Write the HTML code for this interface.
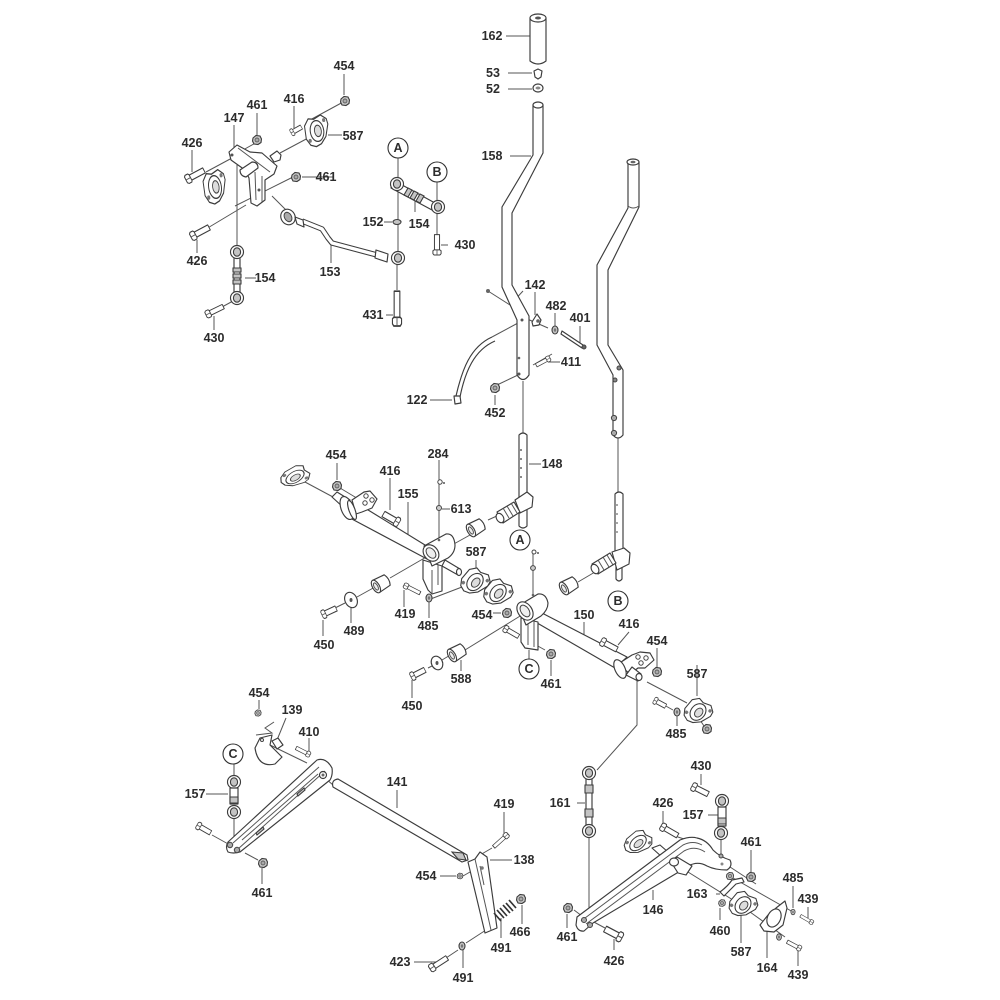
<!DOCTYPE html>
<html><head><meta charset="utf-8"><style>
html,body{margin:0;padding:0;background:#fff}
svg{display:block;filter:blur(.35px)}
text{font-family:"Liberation Sans",sans-serif;font-weight:bold;font-size:12.5px;fill:#2c2c2c;text-anchor:middle}
.p{fill:#fff;stroke:#3c3c3c;stroke-width:1.15;stroke-linejoin:round}
.l{fill:none;stroke:#555;stroke-width:1}
.t{fill:none;stroke:#3c3c3c;stroke-width:1.15}
.g{fill:#c4c4c4;stroke:#3c3c3c;stroke-width:1.1}
</style></head><body>
<svg width="1000" height="1000" viewBox="0 0 1000 1000" xmlns="http://www.w3.org/2000/svg">
<defs>
<g id="n"><path class="g" d="M-4,-2 L-1,-4.5 L3,-4 L4.5,-1 L4,2.5 L1,4.5 L-3,4 L-4.5,1Z"/><circle r="2" fill="#aaa" stroke="#444" stroke-width=".7"/></g>
<g id="w"><ellipse rx="3" ry="4" class="g"/><ellipse rx="1.2" ry="1.8" fill="#777"/></g>
<g id="b"><path class="p" d="M5,-3 H24 V3 H5Z"/><path class="p" d="M0,-3.4 L1.5,-4.8 L5,-4.8 L6,-3.4 L6,3.4 L5,4.8 L1.5,4.8 L0,3.4Z"/><path class="l" d="M0,0H6"/></g>
<g id="e"><circle r="6.5" class="p"/><ellipse rx="3.6" ry="4.2" class="g"/></g>
<g id="f"><path class="p" d="M-13,-6 L-8,-12 L-2,-11 L6,-14 L12,-10 L13,-5 L9,6 L3,12 L-3,14 L-9,12 L-13,6Z"/><ellipse rx="7.5" ry="9.5" class="p"/><ellipse cx="1" rx="3.8" ry="5.2" fill="#ddd" stroke="#444"/><circle cx="-9" cy="8" r="1.8" fill="#777"/><circle cx="9" cy="-9" r="1.8" fill="#777"/></g>
<g id="rod"><path class="p" d="M-3,0 H3 V46 H-3Z"/><use href="#e"/><use href="#e" y="46"/><path class="g" d="M-4,16 H4 V20 H-4ZM-4,22 H4 V26 H-4ZM-4,28 H4 V32 H-4Z"/></g>
<g id="cy"><path class="p" d="M-7,-7 L6,-6 Q9,0 6,6 L-7,7Z"/><ellipse cx="-7" rx="3.5" ry="7" class="p"/><ellipse cx="-7" rx="1.8" ry="4" fill="#eee" stroke="#555"/></g>
</defs>

<!-- leaders -->
<g class="l">
<path d="M506,36H530M508,73H532M508,89H532M510,156H531"/>
<path d="M344,74V95M257,113V135M294,106V128M234,125V150M192,150V172M197,240V253M245,278H256M214,330V316M328,135H342M334,177H302"/>
<path d="M345,101L310,120M310,137L280,153M293,177L235,206M206,229L246,205M206,172L232,158M259,141L243,150M272,196L288,212M237,165V245M222,307L233,301"/>
<path d="M398,158V178M398,190V252M437,182V202M437,212V235M397,265V290M384,222H392M448,245H441M386,315H393M415,201V212M331,243V263"/>
<path d="M523,381V433M618,437V492M529,464H541M523,291L510,305L488,291M535,292V315M555,313V327M580,326V345M560,362H548M495,395V405M430,400H452M497,385L518,375M533,365L552,354M518,323L492,337M525,318L548,328"/>
<path d="M337,463V480M340,488L360,500M390,478V510M408,502V537M439,460V540M450,509H442M305,482L333,497M476,560V572M404,607V590M429,618V602M351,623V606M323,636V620M493,613H501M428,600L462,587M390,578L428,556M335,608L345,603M357,597L375,587M488,520L510,510M452,545L470,535"/>
<path d="M533,552V596M578,582L595,572M584,622V640M629,632L618,645M657,648V668M697,665V696M647,682L687,703M551,676V660M536,645L545,650M529,650V660M461,671V660M412,698V680M428,668L434,665M442,660L452,654M465,650L525,613M677,726V716M664,705L673,710M700,720L704,726M637,678V725L597,770"/>
<path d="M259,700V709M270,745L307,763M286,718L277,740M309,738V755M234,764V776M234,818V840M206,794H228M212,835L230,845M262,884V868M245,853L258,860M397,790V808M504,812V834M492,848L480,855M512,860H490M440,876H456M463,876L470,872M522,924V905M501,938V918M463,968V950M414,962H436M446,958L458,950M466,943L486,930M333,785L325,778"/>
<path d="M577,803H585M589,836V912M701,774V785M663,811V824M708,815H721M722,808V826M721,839V856M751,850V872M716,894H720M793,886V908M808,907V918M720,920V908M653,900V890M741,943V912M767,958V930M798,966V950M567,928V914M614,950V939M675,836L684,839M605,928L592,921M574,910L582,916M733,878L793,912M688,872L733,900M750,912L785,937M756,884L727,865"/>
</g>

<!-- left top assembly -->
<use href="#n" x="345" y="101"/>
<use href="#b" transform="translate(291,133) rotate(-30) scale(.5,.75)"/>
<use href="#f" transform="translate(317,131) rotate(-8) scale(.9,1.1)"/>
<path class="p" d="M270,156L277,151L281,155L280,160L274,162Z"/>
<path class="p" d="M229,152L237,145L250,152L262,153L277,166L274,174L265,180L265,200L257,206L251,203L249,178L245,170L231,160Z"/>
<path class="l" d="M238,148L270,172M255,172L256,200M262,176L262,202"/>
<circle cx="232" cy="155" r="1.5" fill="#555"/><circle cx="259" cy="190" r="1.5" fill="#555"/>
<path class="p" d="M240,170L252,162Q258,162 258,168L246,177Q240,176 240,170Z"/>
<use href="#f" transform="translate(215,187) rotate(-8) scale(.85,1.2)"/>
<use href="#n" x="257" y="140"/><use href="#n" x="296" y="177"/>
<use href="#b" transform="translate(186,180) rotate(-28) scale(.85,.95)"/>
<use href="#b" transform="translate(191,237) rotate(-28) scale(.85,.95)"/>
<use href="#rod" x="237" y="252"/>
<use href="#b" transform="translate(206,315) rotate(-26) scale(.8,.8)"/>
<path d="M302,221L322,229L328,238L332,243L377,255" fill="none" stroke="#3c3c3c" stroke-width="5.5" stroke-linejoin="round"/>
<path d="M302,221L322,229L328,238L332,243L377,255" fill="none" stroke="#fff" stroke-width="3.4" stroke-linejoin="round"/>
<ellipse cx="288" cy="217" rx="7" ry="8" class="p" transform="rotate(-30 288 217)"/><ellipse cx="288" cy="217" rx="3.5" ry="5" fill="#aaa" stroke="#444" transform="rotate(-30 288 217)"/>
<path class="p" d="M295,217L303,220L304,227L297,224Z"/>
<path class="p" d="M376,250L388,254L387,262L375,258Z"/>
<use href="#e" x="398" y="258"/>
<use href="#b" transform="translate(397,326) rotate(-90) scale(1.45,.95)"/>
<path class="p" d="M393,180L435,203L432,210L391,188Z"/>
<use href="#e" x="397" y="184"/><use href="#e" x="438" y="207"/>
<path class="g" d="M408,188L412,190L408,197L404,195ZM414,191L418,193L414,200L410,198ZM420,194L424,196L420,203L416,201Z"/>
<ellipse cx="397" cy="222" rx="4" ry="2.5" class="g"/>
<use href="#b" transform="translate(437,255) rotate(-90) scale(.85,.85)"/>

<!-- main levers -->
<path class="p" d="M533,105 V155 L502,207 V287 L517,320 V375 Q523,384 529,375 V316 L512,285 V213 L543,153 V105 Z"/>
<ellipse cx="538" cy="105" rx="5" ry="3" class="p"/>
<path class="p" d="M597,345 V265 L628,208 V162 H639 V207 L608,270 V345 L623,370 V435 Q618,441 613,435 V375 Z"/>
<path class="l" d="M628,206 Q633,210 639,206"/><ellipse cx="633" cy="162" rx="6" ry="3" class="p"/><ellipse cx="633" cy="162" rx="2.5" ry="1.3" fill="#666"/>
<circle cx="522" cy="320" r="1.5" fill="#555"/><circle cx="519" cy="358" r="1.3" fill="#666"/><circle cx="519" cy="374" r="1.5" fill="#555"/>
<circle cx="615" cy="380" r="2" fill="#888" stroke="#444"/><circle cx="614" cy="418" r="2.6" fill="#aaa" stroke="#444"/><circle cx="614" cy="433" r="2.6" fill="#aaa" stroke="#444"/><circle cx="619" cy="368" r="2" fill="#888" stroke="#444"/>
<path class="p" d="M532,322L537,314L541,320L539,325L533,326Z"/><circle cx="538" cy="321" r="1.8" fill="#666"/>
<use href="#w" x="555" y="330"/>
<path class="p" d="M562,331L583,345L582,348L561,334Z"/><circle cx="584" cy="347" r="2" fill="#666" stroke="#444"/>
<use href="#b" transform="translate(550,358) rotate(152) scale(.65,.6)"/>
<use href="#n" x="495" y="388"/>
<circle cx="488" cy="291" r="2" fill="#666"/>
<path class="t" d="M492,337C470,347 462,370 456,396M495,341C474,350 465,372 460,397"/>
<path class="p" d="M454,396H460L461,403L455,404Z"/>

<!-- top grip 162 -->
<path class="p" d="M530,18 V61 Q538,67 546,61 V18Z"/>
<ellipse cx="538" cy="18" rx="8" ry="4" class="p"/><ellipse cx="538" cy="18" rx="3" ry="1.5" fill="#555"/>
<path class="p" d="M534,71L538,69L542,71L541,77L538,79L535,77Z"/>
<ellipse cx="538" cy="88" rx="5" ry="4" class="p"/><ellipse cx="538" cy="88" rx="2.5" ry="1.5" fill="#888"/>

<!-- tubes 148 -->
<path class="p" d="M519,435 Q523,431 527,435 V500 H519Z"/>
<g fill="#666"><circle cx="521" cy="450" r="1"/><circle cx="521" cy="459" r="1"/><circle cx="521" cy="468" r="1"/><circle cx="521" cy="477" r="1"/></g>
<path class="p" d="M519,505V526Q523,530 527,526V505Z"/>
<path class="p" d="M515,500L527,492L533,497L532,507L520,513Z"/>
<path class="p" d="M497,512L514,502L520,512L503,523Z"/>
<path class="l" d="M503,508L509,518M507,506L513,516M511,503L517,513"/><ellipse cx="500" cy="518" rx="3.5" ry="5" class="p" transform="rotate(-30 500 518)"/>
<path class="p" d="M615,494 Q619,490 623,494 V552 H615Z"/>
<g fill="#666"><circle cx="617" cy="505" r=".9"/><circle cx="617" cy="514" r=".9"/><circle cx="617" cy="523" r=".9"/><circle cx="617" cy="532" r=".9"/></g>
<path class="p" d="M616,560V579Q619,583 622,579V560Z"/>
<path class="p" d="M612,552L624,548L630,553L629,564L617,570Z"/>
<path class="p" d="M592,564L610,553L616,563L598,574Z"/>
<path class="l" d="M598,560L604,570M603,557L609,567M607,555L613,565"/><ellipse cx="595" cy="569" rx="3.5" ry="5" class="p" transform="rotate(-30 595 569)"/>

<!-- left shaft 155 -->
<use href="#f" transform="translate(295,477) rotate(60) scale(.72,1.05)"/>
<use href="#n" x="337" y="486"/>
<path class="p" d="M332,497L337,492L350,500L344,508Z"/>
<path class="p" d="M350,518L360,505L425,545L427,559Z"/>
<path class="p" d="M352,500L364,492L370,491L377,499L372,508L362,512L356,514Z"/>
<circle cx="366" cy="496" r="2.2" fill="#fff" stroke="#444"/><circle cx="372" cy="500" r="2.2" fill="#fff" stroke="#444"/><circle cx="365" cy="503" r="2.2" fill="#fff" stroke="#444"/>
<ellipse cx="347" cy="508" rx="6" ry="12" class="p" transform="rotate(-20 347 508)"/><ellipse cx="352" cy="510" rx="3" ry="10" class="p" transform="rotate(-20 352 510)"/>
<use href="#b" transform="translate(399,523) rotate(210) scale(.75,1)"/>
<path class="p" d="M423,560V579L428,590L432,594L442,591V566Z"/><path class="l" d="M432,570V594M438,565V585"/>
<path class="p" d="M445,560L460,569L458,575L442,566Z"/><ellipse cx="459" cy="572" rx="2.5" ry="3.5" class="p"/>
<path class="p" d="M424,546L446,534Q454,533 455,545Q455,553 448,558L432,566Z"/>
<ellipse cx="431" cy="553" rx="7" ry="9" class="p" transform="rotate(-40 431 553)"/><ellipse cx="431" cy="553" rx="4" ry="6" fill="#eee" stroke="#444" transform="rotate(-40 431 553)"/>
<circle cx="439" cy="540" r="1.3" fill="#666"/>
<use href="#cy" transform="translate(477,527) rotate(-30)"/>
<use href="#cy" transform="translate(382,583) rotate(-30)"/>
<ellipse cx="351" cy="600" rx="6" ry="8" class="p" transform="rotate(-25 351 600)"/><ellipse cx="351" cy="600" rx="1.5" ry="2" fill="#555"/>
<use href="#b" transform="translate(322,615) rotate(-25) scale(.65,.9)"/>
<use href="#b" transform="translate(404,585) rotate(27) scale(.75,.6)"/>
<use href="#w" x="429" y="598"/>
<use href="#f" transform="translate(475,582) rotate(40) scale(.95,1)"/>
<use href="#f" transform="translate(498,593) rotate(40) scale(.95,1)"/>
<use href="#n" x="507" y="613"/>
<circle cx="440" cy="482" r="2.2" fill="#fff" stroke="#444"/><circle cx="444" cy="483" r="1" fill="#555"/>
<circle cx="439" cy="508" r="2.5" fill="#ccc" stroke="#444"/>

<!-- middle shaft 150 -->
<circle cx="534" cy="552" r="2" fill="#fff" stroke="#444"/><circle cx="538" cy="553" r="1" fill="#555"/>
<circle cx="533" cy="568" r="2.4" fill="#ccc" stroke="#444"/>
<use href="#cy" transform="translate(570,585) rotate(-30)"/>
<path class="p" d="M532,620L540,612L627,657L615,668Z"/>
<path class="p" d="M521,618V642L525,648L538,650V622Z"/><path class="l" d="M528,622V645M534,620V647"/>
<path class="p" d="M518,606L538,594Q546,593 548,603Q548,610 541,616L526,625Z"/>
<ellipse cx="525" cy="611" rx="7" ry="10" class="p" transform="rotate(-35 525 611)"/><ellipse cx="525" cy="611" rx="4" ry="6.5" fill="#eee" stroke="#444" transform="rotate(-35 525 611)"/>
<circle cx="533" cy="595" r="1.3" fill="#666"/>
<use href="#b" transform="translate(504,628) rotate(30) scale(.7,.75)"/>
<use href="#n" x="551" y="654"/>
<use href="#b" transform="translate(601,641) rotate(28) scale(.75,.9)"/>
<use href="#n" x="657" y="672"/>
<path class="p" d="M618,664L632,655L640,652L650,653L654,660L645,668L638,668L630,674Z"/>
<circle cx="638" cy="657" r="2.2" fill="#fff" stroke="#444"/><circle cx="646" cy="658" r="2.2" fill="#fff" stroke="#444"/><circle cx="641" cy="663" r="2.2" fill="#fff" stroke="#444"/>
<ellipse cx="620" cy="669" rx="5" ry="10" class="p" transform="rotate(-25 620 669)"/>
<path class="p" d="M626,675L632,667L641,674L638,681Z"/><ellipse cx="639" cy="677" rx="3" ry="3.5" class="p"/>
<use href="#f" transform="translate(698,712) rotate(40) scale(.95,.95)"/>
<use href="#n" x="707" y="729"/>
<use href="#b" transform="translate(654,700) rotate(28) scale(.55,.75)"/>
<use href="#w" x="677" y="712"/>
<use href="#cy" transform="translate(458,652) rotate(-30)"/>
<ellipse cx="437" cy="663" rx="5.5" ry="7" class="p" transform="rotate(-25 437 663)"/><ellipse cx="437" cy="663" rx="1.5" ry="2" fill="#555"/>
<use href="#b" transform="translate(411,677) rotate(-27) scale(.65,.9)"/>

<!-- lower left arm -->
<path class="p" d="M255,748 Q258,768 275,764 L282,757 L270,745 L272,735 L260,738Z"/>
<circle cx="262" cy="740" r="1.5" fill="#fff" stroke="#444"/>
<path class="l" d="M256,735L272,733L265,728L274,722"/>
<path class="p" d="M272,741L278,738L283,745L277,749Z"/>
<use href="#n" transform="translate(258,713) scale(.7)"/>
<use href="#b" transform="translate(310,755) rotate(207) scale(.65,.6)"/>
<path class="p" d="M228,842L317,760Q326,757 332,768Q333,775 330,780L240,852Q233,854 228,852Q225,847 228,842Z"/>
<path class="l" d="M233,843L319,767M238,849L325,771M242,840L318,774"/>
<path class="g" d="M256,833L263,827L264,829L257,835ZM297,794L304,788L305,790L298,796Z"/>
<circle cx="323" cy="775" r="3.5" class="p"/><circle cx="323" cy="775" r="1.5" fill="#666"/>
<circle cx="230" cy="845" r="2.7" fill="#aaa" stroke="#444"/><circle cx="237" cy="850" r="2.7" fill="#aaa" stroke="#444"/>
<path class="p" d="M333,787Q331,780 338,779L467,855L468,860L462,862Z"/>
<path class="g" d="M452,852L463,853L466,860L458,859Z"/>
<use href="#e" x="234" y="782"/><use href="#e" x="234" y="812"/>
<path class="p" d="M230,788H238V804H230Z"/><path class="g" d="M230,797H238V803H230Z"/>
<use href="#b" transform="translate(197,825) rotate(30) scale(.65,.8)"/>
<use href="#n" x="263" y="863"/>
<path class="p" d="M468,862L475,859L480,852L487,857L497,928L485,933Z"/>
<path class="l" d="M475,859L491,930M480,866L484,885"/><circle cx="482" cy="868" r="1.8" fill="#777"/>
<use href="#b" transform="translate(508,834) rotate(138) scale(.8,.6)"/>
<use href="#n" transform="translate(460,876) scale(.65)"/>
<g stroke="#333" stroke-width="1.7" fill="none"><path d="M494,913L501,921M497,910L504,918M500,908L507,916M503,905L510,913M506,903L513,911M509,900L516,908"/></g>
<use href="#n" x="521" y="899"/>
<use href="#w" x="462" y="946"/>
<use href="#b" transform="translate(430,969) rotate(-33) scale(.85,.85)"/>

<!-- lower right arm -->
<path class="p" d="M586,778H592V826H586Z"/>
<use href="#e" x="589" y="773"/><use href="#e" x="589" y="831"/>
<path class="g" d="M585,785H593V793H585ZM585,809H593V817H585Z"/>
<use href="#f" transform="translate(638,843) rotate(50) scale(.8,1)"/>
<use href="#n" x="568" y="908"/>
<path class="p" d="M652,848L660,845L668,852L662,857Z"/>
<path class="p" d="M577,917L680,840Q690,836 697,838Q707,840 713,850Q720,857 730,860Q733,866 727,870Q715,870 707,866Q700,862 693,864Q684,866 677,873L593,923L584,931Q578,932 576,925Z"/>
<path class="l" d="M581,921L683,845Q693,840 702,845M586,924L684,851Q695,845 705,852"/>
<circle cx="584" cy="920" r="2.5" fill="#aaa" stroke="#444"/><circle cx="590" cy="925" r="2.5" fill="#aaa" stroke="#444"/>
<circle cx="722" cy="864" r="1.5" fill="#888"/><circle cx="721" cy="856" r="2" fill="#aaa" stroke="#444"/>
<path class="p" d="M671,862L677,857L692,866L686,875L678,873Z"/><ellipse cx="674" cy="862" rx="4.5" ry="4" class="p"/>
<use href="#b" transform="translate(661,826) rotate(30) scale(.8,.85)"/>
<use href="#b" transform="translate(622,938) rotate(208) scale(.8,1.05)"/>
<use href="#e" x="722" y="801"/><use href="#e" x="721" y="833"/>
<path class="p" d="M718,807H726V826H718Z"/><path class="g" d="M718,818H726V824H718Z"/>
<use href="#b" transform="translate(692,786) rotate(27) scale(.75,.9)"/>
<use href="#n" x="751" y="877"/><use href="#n" transform="translate(730,876) scale(.8)"/>
<path class="p" d="M720,892Q728,886 732,880L742,878L744,882L736,884Q730,890 724,896Z"/>
<use href="#n" transform="translate(722,903) scale(.75)"/>
<use href="#f" transform="translate(743,905) rotate(40) scale(.95,.95)"/>
<path class="p" d="M760,925L768,915L776,908L785,901L787,908L783,925L774,932L764,931Z"/>
<ellipse cx="774" cy="918" rx="6.5" ry="9.5" class="p" transform="rotate(25 774 918)"/>
<use href="#w" transform="translate(793,912) scale(.7)"/>
<use href="#b" transform="translate(813,923) rotate(210) scale(.6,.5)"/>
<use href="#w" transform="translate(779,937) scale(.8)"/>
<use href="#b" transform="translate(801,949) rotate(208) scale(.65,.6)"/>

<!-- circles -->
<g fill="#fff" stroke="#333" stroke-width="1.1">
<circle cx="398" cy="148" r="10"/>
<circle cx="437" cy="172" r="10"/>
<circle cx="520" cy="540" r="10"/>
<circle cx="618" cy="601" r="10"/>
<circle cx="529" cy="669" r="10"/>
<circle cx="233" cy="754" r="10"/>
</g>

<!-- labels -->
<text x="398" y="152">A</text><text x="437" y="176">B</text><text x="520" y="544">A</text><text x="618" y="605">B</text><text x="529" y="673">C</text><text x="233" y="758">C</text>
<text x="492" y="40">162</text><text x="493" y="77">53</text><text x="493" y="93">52</text><text x="492" y="160">158</text>
<text x="344" y="70">454</text><text x="257" y="109">461</text><text x="294" y="103">416</text><text x="234" y="122">147</text><text x="192" y="147">426</text><text x="353" y="140">587</text><text x="326" y="181">461</text><text x="197" y="265">426</text><text x="265" y="282">154</text><text x="214" y="342">430</text>
<text x="373" y="226">152</text><text x="419" y="228">154</text><text x="465" y="249">430</text><text x="330" y="276">153</text><text x="373" y="319">431</text>
<text x="535" y="289">142</text><text x="556" y="310">482</text><text x="580" y="322">401</text><text x="571" y="366">411</text><text x="417" y="404">122</text><text x="495" y="417">452</text><text x="552" y="468">148</text>
<text x="438" y="458">284</text><text x="336" y="459">454</text><text x="390" y="475">416</text><text x="408" y="498">155</text><text x="461" y="513">613</text><text x="476" y="556">587</text>
<text x="405" y="618">419</text><text x="428" y="630">485</text><text x="482" y="619">454</text><text x="354" y="635">489</text><text x="324" y="649">450</text>
<text x="584" y="619">150</text><text x="629" y="628">416</text><text x="657" y="645">454</text><text x="697" y="678">587</text><text x="551" y="688">461</text><text x="461" y="683">588</text><text x="412" y="710">450</text><text x="676" y="738">485</text>
<text x="259" y="697">454</text><text x="292" y="714">139</text><text x="309" y="736">410</text><text x="397" y="786">141</text><text x="504" y="808">419</text><text x="524" y="864">138</text><text x="195" y="798">157</text><text x="262" y="897">461</text><text x="426" y="880">454</text><text x="520" y="936">466</text><text x="501" y="952">491</text><text x="463" y="982">491</text><text x="400" y="966">423</text>
<text x="560" y="807">161</text><text x="701" y="770">430</text><text x="663" y="807">426</text><text x="693" y="819">157</text><text x="751" y="846">461</text><text x="697" y="898">163</text><text x="793" y="882">485</text><text x="808" y="903">439</text><text x="720" y="935">460</text><text x="653" y="914">146</text><text x="741" y="956">587</text><text x="767" y="972">164</text><text x="798" y="979">439</text><text x="567" y="941">461</text><text x="614" y="965">426</text>
</svg>
</body></html>
